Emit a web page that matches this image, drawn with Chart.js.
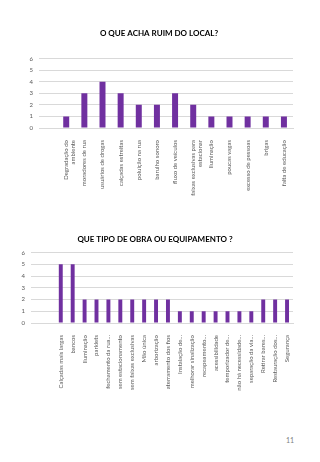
<!DOCTYPE html>
<html>
<head>
<meta charset="utf-8">
<script src="https://cdn.jsdelivr.net/npm/chart.js@4"></script>
<style>
  html, body { margin: 0; padding: 0; background: #fff; }
  body { width: 320px; height: 462px; position: relative; overflow: hidden; font-family: Lato, 'Open Sans', sans-serif; }
  .box { position: absolute; left: 0; width: 320px; }
  #page { position: absolute; left: 286px; top: 436px; font-size: 7px; color: #808080; }
</style>
</head>
<body>
<div class="box" style="top:20px;height:184px"><canvas id="ruim-chart"></canvas></div>
<div class="box" style="top:228px;height:176px"><canvas id="obra-chart"></canvas></div>
<div id="page">11</div>
<script>
// O QUE ACHA RUIM DO LOCAL?
const ruimLabels = ['', ['Degradação do', 'ambiente'], 'moradores de rua', 'usuários de drogas', 'calçadas estreitas',
    'poluição na rua', 'barulho sonoro', 'fluxo de veículos', ['faixas exclusivas para', 'estacionar'],
    'Iluminação', 'poucas vagas', 'excesso de pessoas', 'brigas', 'falta de educação'];
const ruimValues = [null, 1, 3, 4, 3, 2, 2, 3, 2, 1, 1, 1, 1, 1];

// QUE TIPO DE OBRA OU EQUIPAMENTO ?
const obraLabels = ['', '', 'Calçadas mais largas', 'bancos', 'Iluminação', 'parklets', 'fechamento da rua…',
    'sem estacionamento', 'sem faixas exclusivas', 'Mão única', 'arborização', 'aterramento dos fios',
    'Instalação de…', 'melhorar sinalização', 'recapeamento…', 'acessibilidade', 'temporizador de…',
    'não há necessidade…', 'separação da via…', 'Retirar bares…', 'Restauração dos…', 'Segurança'];
const obraValues = [null, null, 5, 5, 2, 2, 2, 2, 2, 2, 2, 2, 1, 1, 1, 1, 1, 1, 1, 2, 2, 2];

const yTicks = [0, 1, 2, 3, 4, 5, 6];

const colors = {
    bar: '#7030a0',
    text: '#595959',
    grid: '#d9d9d9'
};

Chart.defaults.font.family = "Lato, 'Open Sans', sans-serif";
Chart.defaults.color = colors.text;
Chart.defaults.animation = false;

function makeChart(id, title, labels, values, yWidth, xHeight, pad, titlePad, barPct) {
    new Chart(document.getElementById(id), {
        type: 'bar',
        data: {
            labels: labels,
            datasets: [{
                data: values,
                backgroundColor: colors.bar,
                barPercentage: barPct,
                categoryPercentage: 1
            }]
        },
        options: {
            responsive: true,
            maintainAspectRatio: false,
            layout: { padding: pad },
            plugins: {
                legend: { display: false },
                tooltip: { enabled: false },
                title: {
                    display: true,
                    text: title,
                    color: '#000',
                    font: { size: 8, weight: 'bold' },
                    padding: titlePad
                }
            },
            scales: {
                y: {
                    min: 0,
                    max: 6,
                    afterBuildTicks: (s) => { s.ticks = yTicks.map(v => ({ value: v })); },
                    afterFit: (s) => { s.width = yWidth; },
                    grid: { color: colors.grid, drawTicks: false },
                    border: { display: false },
                    ticks: { font: { size: 6 }, padding: 6 }
                },
                x: {
                    afterFit: (s) => { s.height = xHeight; },
                    grid: { display: false },
                    border: { color: colors.grid },
                    ticks: {
                        autoSkip: false,
                        minRotation: 90,
                        maxRotation: 90,
                        font: { size: 6 },
                        padding: 4
                    }
                }
            }
        }
    });
}

document.addEventListener('DOMContentLoaded', () => {
    makeChart('ruim-chart', 'O QUE ACHA RUIM DO LOCAL?', ruimLabels, ruimValues, 14, 76,
        { left: 25, right: 27, top: 0, bottom: 0 }, { top: 9, bottom: 20 }, 0.33);
    makeChart('obra-chart', 'QUE TIPO DE OBRA OU EQUIPAMENTO ?', obraLabels, obraValues, 14, 81,
        { left: 17, right: 27, top: 0, bottom: 0 }, { top: 7, bottom: 8 }, 0.33);
});
</script>
</body>
</html>
